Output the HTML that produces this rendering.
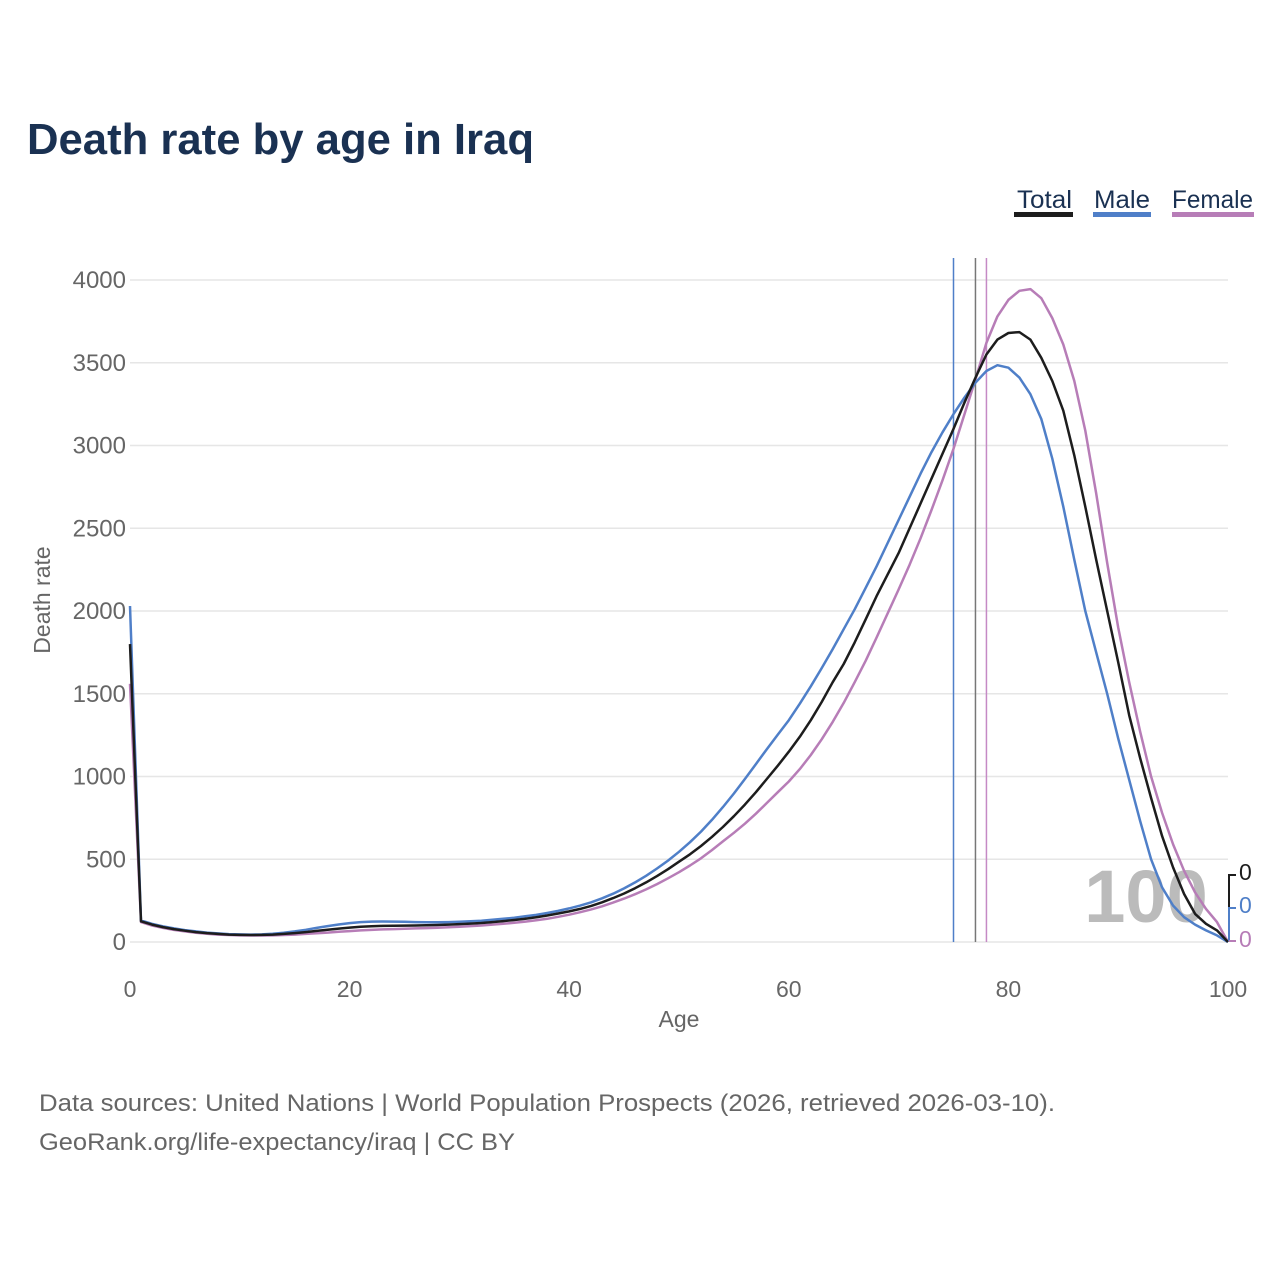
<!DOCTYPE html>
<html><head><meta charset="utf-8">
<style>
body{margin:0;background:#fff;width:1280px;height:1280px;overflow:hidden;font-family:"Liberation Sans",sans-serif}
svg text{font-family:"Liberation Sans",sans-serif}
</style></head>
<body>
<svg id="chart" width="1280" height="1280" viewBox="0 0 1280 1280" xmlns="http://www.w3.org/2000/svg">
<text x="27" y="154" font-size="44" font-weight="bold" fill="#1a3152" textLength="507" lengthAdjust="spacingAndGlyphs">Death rate by age in Iraq</text>
<g>
<g><text x="1017" y="208" font-size="25" fill="#1a3152" textLength="55" lengthAdjust="spacingAndGlyphs">Total</text><rect x="1014" y="212" width="59" height="5" fill="#1d1d1d"/></g>
<g><text x="1094" y="208" font-size="25" fill="#1a3152" textLength="56" lengthAdjust="spacingAndGlyphs">Male</text><rect x="1093" y="212" width="58" height="5" fill="#4f7fc8"/></g>
<g><text x="1172" y="208" font-size="25" fill="#1a3152" textLength="81" lengthAdjust="spacingAndGlyphs">Female</text><rect x="1172" y="212" width="82" height="5" fill="#b77db7"/></g>
</g>
<g id="grid"></g>
<g id="yticks"></g>
<g id="xticks"></g>
<text transform="translate(50,600) rotate(-90)" text-anchor="middle" font-size="23" fill="#666">Death rate</text>
<text x="679" y="1027" text-anchor="middle" font-size="23" fill="#666">Age</text>
<text x="1146" y="922" text-anchor="middle" font-size="74" font-weight="bold" fill="#bbbbbb">100</text>
<g id="vlines"></g>
<g id="series"></g>
<g>
<path d="M1236,875 H1229 V908" stroke="#1d1d1d" stroke-width="2" fill="none"/>
<path d="M1236,908 H1229 V941" stroke="#4f7fc8" stroke-width="2" fill="none"/>
<path d="M1236,941 H1229" stroke="#b77db7" stroke-width="2" fill="none"/>
<text x="1239" y="880" font-size="23" fill="#1d1d1d">0</text>
<text x="1239" y="913" font-size="23" fill="#4f7fc8">0</text>
<text x="1239" y="947" font-size="23" fill="#b77db7">0</text>
</g>
<text x="39" y="1111" font-size="24" fill="#666" textLength="1016" lengthAdjust="spacingAndGlyphs">Data sources: United Nations | World Population Prospects (2026, retrieved 2026-03-10).</text>
<text x="39" y="1150" font-size="24" fill="#666" textLength="476" lengthAdjust="spacingAndGlyphs">GeoRank.org/life-expectancy/iraq | CC BY</text>
</svg>
<script>
const yTicks=[0,500,1000,1500,2000,2500,3000,3500,4000];
const xTicks=[0,20,40,60,80,100];
const lifeExpMale=75, lifeExpTotal=77, lifeExpFemale=78;
const male=[2030,130,110,95,82,72,64,57,52,48,46,45,46,50,56,64,74,85,96,106,114,120,123,124,123,122,120,119,119,120,122,125,129,134,140,147,155,164,175,188,203,220,240,264,292,324,360,400,444,492,545,603,667,738,815,897,985,1075,1165,1253,1340,1440,1545,1655,1770,1890,2010,2140,2270,2410,2550,2690,2830,2960,3080,3190,3290,3380,3450,3485,3470,3410,3310,3160,2920,2630,2310,2000,1750,1500,1230,980,730,500,330,220,150,105,70,40,0];
const total=[1800,125,105,90,78,68,60,54,49,45,43,42,43,45,49,54,60,67,74,81,87,92,95,97,98,99,100,101,103,105,108,111,115,120,126,133,141,150,160,172,185,200,218,240,265,293,325,360,398,440,485,530,580,635,695,760,830,905,985,1065,1150,1240,1340,1450,1570,1680,1810,1950,2090,2220,2350,2500,2650,2800,2950,3100,3260,3410,3550,3640,3680,3685,3640,3530,3390,3210,2940,2630,2310,2000,1690,1370,1110,870,640,450,290,170,110,70,0];
const female=[1560,120,100,85,73,64,56,50,45,42,40,39,39,40,42,45,49,53,57,62,66,70,73,76,78,80,82,84,86,89,92,96,100,105,110,116,123,131,140,152,165,180,197,216,238,262,289,318,350,385,422,462,506,555,608,660,715,775,840,905,970,1045,1130,1225,1330,1445,1570,1700,1840,1985,2130,2280,2440,2610,2790,2980,3190,3400,3620,3780,3880,3935,3945,3890,3770,3610,3390,3090,2710,2290,1900,1570,1270,1000,780,590,430,300,200,120,0];

const NS='http://www.w3.org/2000/svg';
const X0=130,X1=1228,Y0=942,Y1=280;
const xs=a=>X0+(a-0)/(100-0)*(X1-X0);
const ys=v=>Y0-(v/4000)*(Y0-Y1);
function mk(tag,attrs,parent){const e=document.createElementNS(NS,tag);for(const k in attrs)e.setAttribute(k,attrs[k]);parent.appendChild(e);return e;}
const grid=document.getElementById('grid'),yt=document.getElementById('yticks'),xt=document.getElementById('xticks');
yTicks.forEach(v=>{
  const l=mk('line',{x1:X0,x2:X1,y1:ys(v),y2:ys(v),stroke:'#e6e6e6','stroke-width':1.5},grid);
  
  
  const t=mk('text',{x:126,y:ys(v)+8,'text-anchor':'end','font-size':24,fill:'#666'},yt);
  t.textContent=v;
  
  
});
xTicks.forEach(v=>{
  const t=mk('text',{x:xs(v),y:997,'text-anchor':'middle','font-size':23,fill:'#666'},xt);
  t.textContent=v;
  
  
});
const vl=document.getElementById('vlines');
[[lifeExpMale,'#4f7fc8'],[lifeExpTotal,'#777'],[lifeExpFemale,'#c58ac5']].forEach(([a,c])=>{
  const l=mk('line',{x1:xs(a),x2:xs(a),y1:258,y2:Y0,stroke:c,'stroke-width':1.5},vl);
  
  
});
const sg=document.getElementById('series');
[[female,'#b77db7','female-line'],[male,'#4f7fc8','male-line'],[total,'#1d1d1d','total-line']].forEach(([d,c,n])=>{
  const p=mk('path',{d:d.map((v,i)=>(i?'L':'M')+xs(i).toFixed(1)+','+ys(v).toFixed(1)).join(''),stroke:c,'stroke-width':2.5,fill:'none','stroke-linejoin':'round'},sg);
  
  
});
</script>
</body></html>
